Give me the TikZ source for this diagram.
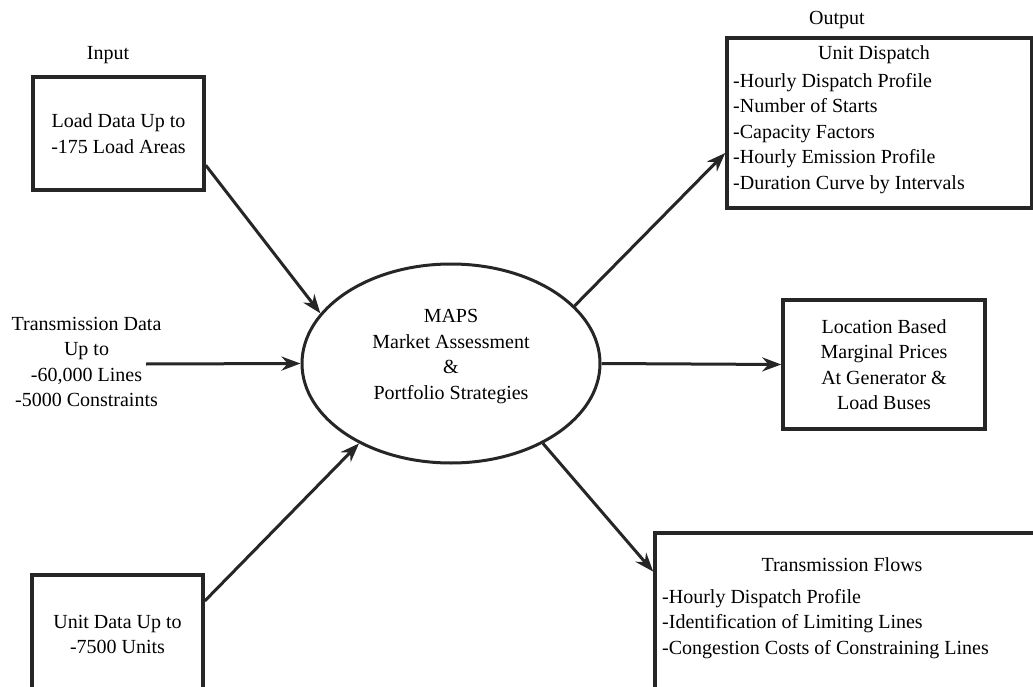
\documentclass[tikz,border=0pt]{standalone}
\usepackage{fontspec}
\setmainfont{Liberation Serif}
\usetikzlibrary{arrows.meta,shapes.geometric}
\tikzset{
>={Stealth[length=19pt,width=14pt]},
  databox/.style={
    rectangle,
    draw=black!85, line width=3.5pt,
    align=center,
    text centered},
  hub/.style={
    ellipse,
    draw=black!85, line width=3pt,
    minimum width=298pt,
    minimum height=199pt},
  listtext/.style={anchor=west, align=left, inner sep=0pt},
  line/.style={draw=black!85, line width=3pt, ->},
}

\begin{document}
\begin{tikzpicture}[x=1pt, y=-1pt, font=\fontsize{20}{25.5}\selectfont]

    \useasboundingbox (0,0) rectangle (1033,687);
    \clip (0,0) rectangle (1033,687);

    % inputs
    \node (inlabel) at (108,55) {Input};
    \node[databox, minimum width=171pt, minimum height=113pt] (load) at (118.5,133.5)
        {Load Data Up to\\-175 Load Areas};
    \node[align=center] (trans) at (86.5,362)
        {Transmission Data\\Up to\\-60,000 Lines\\-5000 Constraints};
    \coordinate (transin) at (146,364);
    \node[databox, minimum width=171pt, minimum height=119pt] (units) at (117.5,634.5)
        {Unit Data Up to\\-7500 Units};

    % model
    \node[hub] (maps) at (451,363.5) {};
    \node[align=center] (mapstxt) at (451,356.5)
        {MAPS\\Market Assessment\\\&\\Portfolio Strategies};

    % outputs
    \node (outlabel) at (837,20) {Output};
    \node[databox, minimum width=305pt, minimum height=170pt] (dispatch) at (879.5,123) {};
    \node (dispatchtitle) at (874,55) {Unit Dispatch};
    \node[listtext] (dispatchlist) at (733,133.5)
        {-Hourly Dispatch Profile\\-Number of Starts\\-Capacity Factors\\-Hourly Emission Profile\\-Duration Curve by Intervals};

    \node[databox, minimum width=202pt, minimum height=129pt] (location) at (884,364.5)
        {Location Based\\Marginal Prices\\At Generator \&\\Load Buses};

    \node[databox, minimum width=385pt, minimum height=167pt] (flows) at (847.5,616.5) {};
    \node (flowstitle) at (842,565) {Transmission Flows};
    \node[listtext] (flowslist) at (662,624)
        {-Hourly Dispatch Profile\\-Identification of Limiting Lines\\-Congestion Costs of Constraining Lines};

    % connectors
    \draw[line] (load.-20) -- (maps.159);
    \draw[line] (transin) -- (maps.west);
    \draw[line] (units.21) -- (maps.221);
    \draw[line] (maps.25) -- (dispatch.191);
    \draw[line] (maps.east) -- (location.west);
    \draw[line] (maps.-41) -- (flows.167);
\end{tikzpicture}
\end{document}
